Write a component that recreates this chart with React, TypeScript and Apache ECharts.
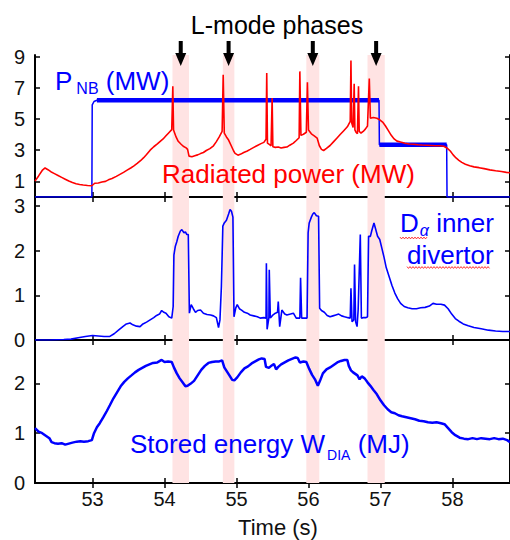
import React, { useEffect, useRef } from "react";
import * as echarts from "echarts";

// Time axis ticks (s)
const timeTicks = [53, 54, 55, 56, 57, 58];

// L-mode phase windows [start, end] in s
const lModeBands: [number, number][] = [
  [54.11, 54.34],
  [54.81, 54.97],
  [55.97, 56.15],
  [56.82, 57.06],
];

// Neutral beam power P_NB (MW)
const pnb: [number, number][] = [
  [52.2, 0], [52.99, 0], [52.995, 5.9], [53.02, 6.12], [53.06, 6.2],
  [56.98, 6.2], [56.985, 3.35], [57.92, 3.35], [57.925, 0], [58.8, 0],
];

// Radiated power (MW)
const prad: [number, number][] = [
  [52.2, 1.02], [52.25, 1.35], [52.3, 1.7], [52.34, 1.86], [52.38, 1.75], [52.42, 1.62],
  [52.47, 1.5], [52.52, 1.38], [52.57, 1.26], [52.62, 1.14], [52.67, 1.02], [52.72, 0.93],
  [52.77, 0.85], [52.82, 0.8], [52.87, 0.77], [52.93, 0.74], [52.99, 0.72], [53.03, 0.88],
  [53.08, 0.9], [53.13, 0.96], [53.18, 1.0], [53.22, 1.1], [53.27, 1.18], [53.33, 1.32],
  [53.38, 1.45], [53.43, 1.58], [53.48, 1.72], [53.53, 1.86], [53.57, 1.98], [53.62, 2.15],
  [53.67, 2.34], [53.71, 2.52], [53.75, 2.72], [53.8, 3.0], [53.85, 3.22], [53.9, 3.4],
  [53.94, 3.57], [53.98, 3.72], [54.02, 3.92], [54.06, 4.12], [54.1, 4.32], [54.115, 7.1],
  [54.125, 4.3], [54.16, 3.85], [54.19, 3.57], [54.23, 3.38], [54.26, 3.25], [54.3, 3.15],
  [54.32, 3.05], [54.34, 2.62], [54.38, 2.58], [54.42, 2.64], [54.46, 2.7], [54.5, 2.78],
  [54.54, 2.85], [54.58, 2.98], [54.63, 3.1], [54.68, 3.28], [54.72, 3.55], [54.76, 3.85],
  [54.8, 4.2], [54.815, 7.83], [54.83, 4.1], [54.86, 3.85], [54.89, 3.65], [54.93, 3.25],
  [54.96, 2.95], [54.98, 2.8], [55.02, 2.68], [55.06, 2.75], [55.1, 2.85], [55.15, 2.95],
  [55.19, 3.05], [55.24, 3.18], [55.29, 3.3], [55.34, 3.42], [55.38, 3.5], [55.41, 3.7],
  [55.42, 7.95], [55.43, 3.45], [55.46, 3.35], [55.48, 3.28], [55.495, 6.35], [55.505, 3.22],
  [55.54, 3.18], [55.58, 3.2], [55.62, 3.14], [55.66, 3.18], [55.7, 3.2], [55.74, 3.32],
  [55.79, 3.45], [55.83, 3.62], [55.87, 3.8], [55.88, 8.05], [55.895, 3.95], [55.93, 4.02],
  [55.97, 4.15], [55.985, 7.35], [56.0, 4.3], [56.04, 4.05], [56.08, 3.92], [56.12, 3.78],
  [56.15, 3.3], [56.18, 3.05], [56.21, 2.98], [56.25, 3.12], [56.3, 3.3], [56.35, 3.55],
  [56.4, 3.8], [56.44, 4.0], [56.49, 4.25], [56.54, 4.5], [56.58, 4.85], [56.59, 8.75],
  [56.6, 4.75], [56.62, 4.45], [56.635, 7.25], [56.645, 4.3], [56.66, 4.15], [56.68, 4.05],
  [56.695, 7.1], [56.705, 4.2], [56.73, 4.1], [56.76, 4.2], [56.79, 4.35], [56.82, 4.55],
  [56.845, 7.6], [56.86, 5.05], [56.9, 5.1], [56.95, 5.05], [56.99, 4.95], [57.03, 4.8],
  [57.07, 4.55], [57.11, 4.25], [57.15, 3.95], [57.19, 3.72], [57.23, 3.58], [57.28, 3.52],
  [57.34, 3.45], [57.4, 3.4], [57.46, 3.38], [57.52, 3.35], [57.58, 3.33], [57.64, 3.32],
  [57.7, 3.3], [57.76, 3.28], [57.82, 3.28], [57.88, 3.25], [57.93, 3.12], [57.97, 2.95],
  [58.01, 2.7], [58.05, 2.5], [58.09, 2.35], [58.13, 2.22], [58.18, 2.1], [58.24, 2.0],
  [58.3, 1.93], [58.37, 1.88], [58.44, 1.82], [58.52, 1.74], [58.6, 1.68], [58.68, 1.63],
  [58.75, 1.58], [58.8, 1.55],
];

// D-alpha emission, inner divertor (a.u.)
const dAlpha: [number, number][] = [
  [52.2, 0.0], [52.4, 0.0], [52.6, 0.01], [52.7, 0.02], [52.8, 0.05], [52.9, 0.08],
  [53.0, 0.1], [53.08, 0.09], [53.16, 0.08], [53.24, 0.08], [53.3, 0.14], [53.36, 0.22],
  [53.42, 0.3], [53.47, 0.36], [53.52, 0.38], [53.56, 0.34], [53.61, 0.31], [53.66, 0.3],
  [53.7, 0.36], [53.75, 0.4], [53.8, 0.45], [53.85, 0.5], [53.89, 0.55], [53.93, 0.58],
  [53.96, 0.66], [53.99, 0.62], [54.02, 0.6], [54.06, 0.52], [54.1, 0.49], [54.12, 0.75],
  [54.13, 1.9], [54.15, 2.1], [54.17, 2.2], [54.19, 2.32], [54.22, 2.44], [54.24, 2.47],
  [54.27, 2.4], [54.29, 2.42], [54.31, 2.36], [54.33, 2.36], [54.345, 0.6], [54.37, 0.79],
  [54.4, 0.7], [54.43, 0.62], [54.46, 0.66], [54.5, 0.67], [54.54, 0.6], [54.59, 0.57],
  [54.64, 0.56], [54.68, 0.54], [54.72, 0.5], [54.75, 0.28], [54.77, 0.45], [54.79, 1.2],
  [54.81, 2.55], [54.83, 2.62], [54.86, 2.68], [54.89, 2.82], [54.91, 2.92], [54.93, 2.88],
  [54.95, 2.75], [54.965, 0.52], [54.99, 0.72], [55.01, 0.79], [55.04, 0.7], [55.07, 0.67],
  [55.11, 0.62], [55.15, 0.6], [55.19, 0.56], [55.24, 0.54], [55.29, 0.52], [55.33, 0.49],
  [55.38, 0.5], [55.41, 0.49], [55.415, 1.72], [55.425, 0.24], [55.45, 0.5], [55.455, 1.57],
  [55.47, 0.49], [55.5, 0.55], [55.54, 0.6], [55.57, 0.62], [55.58, 0.86], [55.6, 0.3],
  [55.63, 0.67], [55.67, 0.58], [55.7, 0.56], [55.75, 0.58], [55.79, 0.6], [55.83, 0.49],
  [55.88, 0.49], [55.89, 1.39], [55.905, 0.49], [55.95, 0.49], [55.98, 0.49], [55.995, 2.4],
  [56.01, 2.62], [56.04, 2.75], [56.06, 2.82], [56.08, 2.85], [56.11, 2.78], [56.14, 2.77],
  [56.155, 0.71], [56.18, 0.66], [56.22, 0.62], [56.26, 0.55], [56.3, 0.52], [56.34, 0.54],
  [56.38, 0.56], [56.42, 0.58], [56.46, 0.54], [56.5, 0.52], [56.55, 0.5], [56.58, 0.49],
  [56.59, 1.16], [56.605, 0.41], [56.63, 0.45], [56.64, 1.69], [56.655, 0.41], [56.675, 0.3],
  [56.69, 0.67], [56.72, 2.36], [56.735, 0.49], [56.76, 0.5], [56.8, 0.5], [56.82, 0.52],
  [56.835, 2.32], [56.86, 2.32], [56.88, 2.45], [56.91, 2.62], [56.93, 2.5], [56.96, 2.32],
  [56.99, 2.25], [57.02, 2.05], [57.05, 1.85], [57.08, 1.62], [57.12, 1.42], [57.16, 1.22],
  [57.2, 1.05], [57.24, 0.92], [57.28, 0.82], [57.33, 0.75], [57.38, 0.72], [57.44, 0.7],
  [57.5, 0.7], [57.56, 0.72], [57.62, 0.73], [57.68, 0.76], [57.73, 0.82], [57.78, 0.8],
  [57.84, 0.8], [57.89, 0.78], [57.94, 0.7], [57.99, 0.58], [58.04, 0.48], [58.09, 0.42],
  [58.15, 0.36], [58.22, 0.32], [58.3, 0.28], [58.4, 0.25], [58.5, 0.22], [58.6, 0.2],
  [58.7, 0.19], [58.8, 0.19],
];

// Diamagnetic stored energy W_DIA (MJ)
const wDia: [number, number][] = [
  [52.2, 1.1], [52.25, 1.03], [52.3, 1.0], [52.35, 0.95], [52.4, 0.9], [52.43, 0.82],
  [52.47, 0.8], [52.52, 0.79], [52.57, 0.8], [52.62, 0.77], [52.67, 0.79], [52.72, 0.81],
  [52.78, 0.83], [52.83, 0.84], [52.88, 0.83], [52.94, 0.84], [52.99, 0.86], [53.02, 1.0],
  [53.06, 1.12], [53.1, 1.2], [53.15, 1.32], [53.2, 1.45], [53.24, 1.56], [53.29, 1.7],
  [53.34, 1.82], [53.39, 1.94], [53.44, 2.03], [53.49, 2.1], [53.54, 2.16], [53.59, 2.22],
  [53.64, 2.27], [53.69, 2.31], [53.74, 2.35], [53.79, 2.38], [53.84, 2.41], [53.9, 2.42],
  [53.96, 2.47], [54.0, 2.43], [54.05, 2.44], [54.1, 2.43], [54.13, 2.32], [54.17, 2.2],
  [54.21, 2.1], [54.25, 2.02], [54.29, 1.94], [54.32, 1.95], [54.36, 1.99], [54.41, 2.05],
  [54.46, 2.16], [54.51, 2.27], [54.56, 2.35], [54.61, 2.41], [54.66, 2.43], [54.71, 2.44],
  [54.76, 2.44], [54.8, 2.46], [54.83, 2.32], [54.87, 2.23], [54.91, 2.14], [54.94, 2.07],
  [54.97, 2.06], [55.01, 2.12], [55.06, 2.22], [55.11, 2.3], [55.16, 2.34], [55.21, 2.4],
  [55.26, 2.44], [55.31, 2.48], [55.35, 2.5], [55.39, 2.49], [55.41, 2.33], [55.45, 2.31],
  [55.49, 2.36], [55.52, 2.39], [55.55, 2.28], [55.58, 2.33], [55.62, 2.38], [55.67, 2.42],
  [55.72, 2.46], [55.77, 2.49], [55.82, 2.52], [55.85, 2.51], [55.88, 2.42], [55.93, 2.44],
  [55.97, 2.43], [56.01, 2.29], [56.05, 2.17], [56.09, 2.08], [56.13, 1.95], [56.16, 2.05],
  [56.2, 2.2], [56.25, 2.28], [56.3, 2.32], [56.35, 2.37], [56.4, 2.42], [56.45, 2.45],
  [56.5, 2.47], [56.54, 2.47], [56.56, 2.35], [56.59, 2.26], [56.62, 2.22], [56.65, 2.19],
  [56.68, 2.16], [56.71, 2.08], [56.74, 2.14], [56.78, 2.1], [56.82, 2.02], [56.86, 1.95],
  [56.9, 1.87], [56.95, 1.78], [57.0, 1.66], [57.05, 1.56], [57.1, 1.48], [57.15, 1.42],
  [57.2, 1.4], [57.25, 1.36], [57.3, 1.34], [57.36, 1.32], [57.42, 1.3], [57.48, 1.28],
  [57.54, 1.25], [57.6, 1.24], [57.66, 1.22], [57.72, 1.21], [57.78, 1.22], [57.84, 1.2],
  [57.89, 1.18], [57.94, 1.1], [57.99, 1.02], [58.04, 0.96], [58.1, 0.91], [58.16, 0.89],
  [58.22, 0.88], [58.28, 0.9], [58.34, 0.88], [58.4, 0.9], [58.46, 0.89], [58.52, 0.88],
  [58.58, 0.9], [58.64, 0.88], [58.7, 0.89], [58.76, 0.86], [58.8, 0.82],
];

const FONT = '"Liberation Sans", Arial, Helvetica, sans-serif';
const BLUE = "#0000ff";
const RED = "#ff0000";
const PINK = "#ffe3e3";
const T_MIN = 52.2;
const T_MAX = 58.8;

// Panel layouts: top, height, y range and tick values
const panels: { top: number; height: number; yMax: number; ticks: number[] }[] = [
  { top: 55, height: 142, yMax: 9.1, ticks: [1, 3, 5, 7, 9] },
  { top: 197, height: 143, yMax: 3.2, ticks: [0, 1, 2, 3] },
  { top: 340, height: 143, yMax: 2.87, ticks: [0, 1, 2] },
];

// Flat (plateau) parts of the beam power trace, drawn thicker like the noisy raw signal
function plateauSegments(d: [number, number][]) {
  const out: ([number, number] | null)[] = [];
  for (let i = 1; i < d.length; i++) {
    if (d[i][1] === d[i - 1][1] && d[i][1] > 0) {
      out.push(d[i - 1], d[i], null);
    }
  }
  return out;
}

// Wavy spell-check style underline
function squiggle(x0: number, x1: number, y: number) {
  const pts: number[][] = [];
  let up = true;
  for (let x = x0; x <= x1; x += 1.5) {
    pts.push([x, up ? y - 0.9 : y + 0.9]);
    up = !up;
  }
  return pts;
}

// Text advance width, used to run subscripts on after their base text
const measureCtx = document.createElement("canvas").getContext("2d");
function textWidth(text: string, size: number, style = "") {
  if (!measureCtx) return text.length * size * 0.55;
  measureCtx.font = `${style} ${size}px ${FONT}`;
  return measureCtx.measureText(text).width;
}

const axisLine = { lineStyle: { color: "#000", width: 2 } };
const tickStyle = { inside: true, length: 5, lineStyle: { color: "#000", width: 1.5 } };

export default function App() {
  const ref = useRef<HTMLDivElement>(null);

  useEffect(() => {
    if (!ref.current) return;
    const chart = echarts.init(ref.current, undefined, { renderer: "svg" });

    const bandArea = {
      silent: true,
      itemStyle: { color: PINK },
      data: lModeBands.map(([a, b]) => [{ xAxis: a }, { xAxis: b }]),
    };

    const xAxes: any[] = [];
    const yAxes: any[] = [];
    ["bottom", "top"].forEach((pos) => {
      panels.forEach((p, i) => {
        xAxes.push({
          type: "value",
          gridIndex: i,
          position: pos,
          min: T_MIN,
          max: T_MAX,
          axisLine,
          axisTick: { ...tickStyle, customValues: timeTicks },
          axisLabel: {
            show: pos === "bottom" && i === 2,
            customValues: timeTicks,
            fontSize: 20,
            fontFamily: FONT,
            color: "#111",
            margin: 6,
          },
          splitLine: { show: false },
        });
      });
    });
    ["left", "right"].forEach((pos) => {
      panels.forEach((p, i) => {
        yAxes.push({
          type: "value",
          gridIndex: i,
          position: pos,
          min: 0,
          max: p.yMax,
          axisLine,
          axisTick: { ...tickStyle, customValues: p.ticks },
          axisLabel: {
            show: pos === "left",
            customValues: p.ticks,
            fontSize: 20,
            fontFamily: FONT,
            color: "#111",
            margin: 10,
          },
          splitLine: { show: false },
        });
      });
    });

    const lineBase = { type: "line", showSymbol: false, symbol: "none", smooth: false };

    chart.setOption({
      animation: false,
      grid: panels.map((p) => ({ left: 35, right: 0, top: p.top, height: p.height })),
      xAxis: xAxes,
      yAxis: yAxes,
      series: [
        {
          ...lineBase,
          name: "P_NB",
          xAxisIndex: 0,
          yAxisIndex: 0,
          data: pnb,
          lineStyle: { color: BLUE, width: 1.5 },
          markArea: bandArea,
        },
        {
          ...lineBase,
          name: "P_NB plateau",
          xAxisIndex: 0,
          yAxisIndex: 0,
          data: plateauSegments(pnb),
          connectNulls: false,
          lineStyle: { color: BLUE, width: 4.5 },
        },
        {
          ...lineBase,
          name: "Radiated power",
          xAxisIndex: 0,
          yAxisIndex: 0,
          z: 3,
          data: prad,
          lineStyle: { color: RED, width: 1.6 },
        },
        {
          ...lineBase,
          name: "D-alpha",
          xAxisIndex: 1,
          yAxisIndex: 1,
          data: dAlpha,
          lineStyle: { color: BLUE, width: 1.6 },
          markArea: bandArea,
        },
        {
          ...lineBase,
          name: "W_DIA",
          xAxisIndex: 2,
          yAxisIndex: 2,
          data: wDia,
          lineStyle: { color: BLUE, width: 2.5 },
          markArea: bandArea,
        },
      ],
    });

    // Arrows marking the L-mode phases, placed at the band centres
    const arrows = lModeBands.map(([a, b]) => {
      const x = chart.convertToPixel({ xAxisIndex: 0 }, (a + b) / 2) as number;
      return {
        type: "polygon",
        z: 20,
        shape: {
          points: [
            [x - 2, 41], [x + 2, 41], [x + 2, 53], [x + 5.5, 53],
            [x, 66], [x - 5.5, 53], [x - 2, 53],
          ],
        },
        style: { fill: "#000" },
      };
    });

    const txt = (text: string, x: number, y: number, size: number, fill: string, extra: any = {}) => ({
      type: "text",
      z: 20,
      x,
      y,
      style: {
        text,
        fill,
        fontSize: size,
        fontFamily: FONT,
        align: "left",
        verticalAlign: "middle",
        ...extra,
      },
    });

    // Label with a subscript: base text, lowered smaller subscript, then trailing text
    const subLabel = (
      base: string, sub: string, tail: string,
      x: number, y: number, size: number, subSize: number, drop: number, gap: number,
      subStyle: any = {}
    ) => {
      const x1 = x + textWidth(base, size) + gap;
      const x2 = x1 + textWidth(sub, subSize, subStyle.fontStyle || "");
      return [
        txt(base, x, y, size, BLUE),
        txt(sub, x1, y + drop, subSize, BLUE, subStyle),
        txt(tail, x2, y, size, BLUE),
      ];
    };

    chart.setOption({
      graphic: [
        ...arrows,
        txt("L-mode phases", 277, 25, 25, "#000", { align: "center" }),
        ...subLabel("P", "NB", " (MW)", 55, 80.5, 26, 16, 7.5, 4),
        txt("Radiated power (MW)", 162, 174.3, 26, RED),
        ...subLabel("D", "α", " inner", 400, 222.7, 26, 16, 8, 1, { fontStyle: "italic" }),
        txt("divertor", 407, 254.5, 26, BLUE),
        {
          type: "polyline",
          z: 20,
          shape: { points: squiggle(400, 428, 238) },
          style: { stroke: RED, lineWidth: 0.8, fill: "none" },
        },
        {
          type: "polyline",
          z: 20,
          shape: { points: squiggle(407, 490, 267.5) },
          style: { stroke: RED, lineWidth: 0.8, fill: "none" },
        },
        ...subLabel("Stored energy W", "DIA", " (MJ)", 130, 444.3, 26, 14, 11, 2),
        txt("Time (s)", 278, 527, 22, "#111", { align: "center" }),
      ],
    });

    return () => chart.dispose();
  }, []);

  return (
    <div
      ref={ref}
      style={{ position: "absolute", left: 0, top: 0, width: 510, height: 540 }}
    />
  );
}
